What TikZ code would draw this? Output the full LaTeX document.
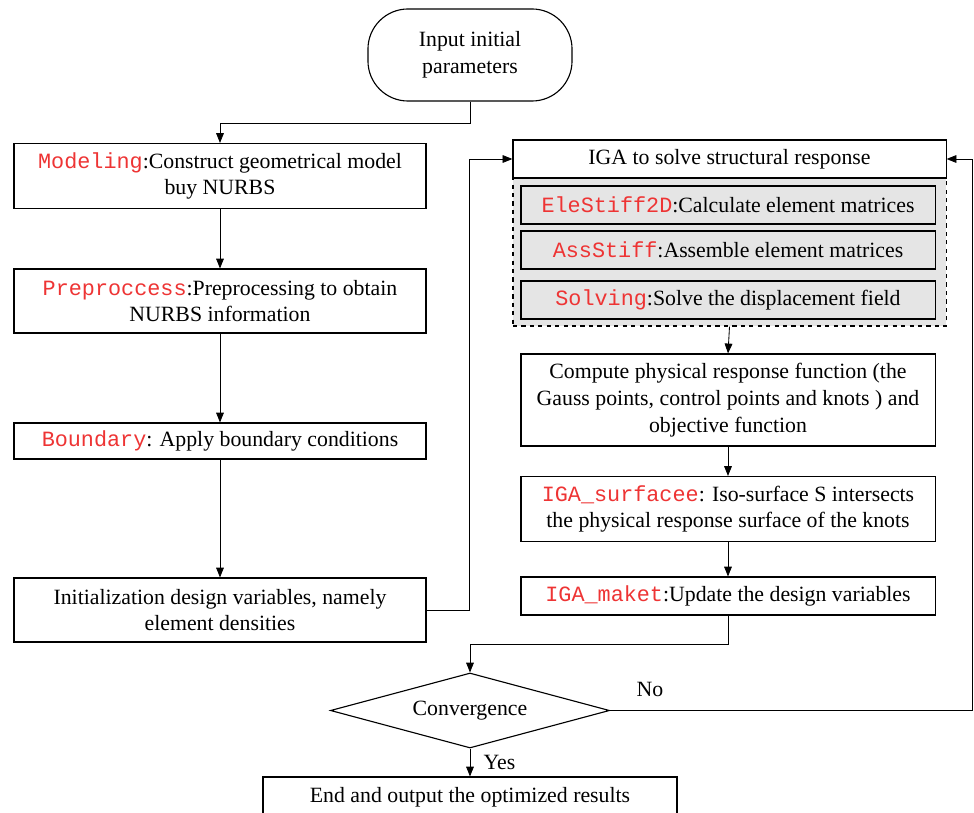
\documentclass[tikz,border=0pt]{standalone}
\usepackage{fontspec}
\setmainfont{Liberation Serif}
\setmonofont{Liberation Mono}
\usetikzlibrary{arrows.meta,shapes.geometric}
\definecolor{fnred}{RGB}{238,52,52}
\newcommand{\fn}[1]{\textcolor{fnred}{\texttt{#1}}}

\begin{document}
\begin{tikzpicture}[x=0.025cm, y=-0.025cm, font=\fontsize{15.5}{19}\selectfont,
        >={Triangle[length=7pt,width=5.5pt]}]
      \tikzstyle{box} = [draw, line width=0.8pt, fill=white, align=center, inner sep=0pt, minimum width=10.3cm]
      \tikzstyle{sub} = [box, fill=black!10, minimum width=10.35cm, minimum height=0.95cm]
      \tikzstyle{line} = [draw, line width=0.6pt, ->]
      \useasboundingbox (0,0) rectangle (974,813);
      \clip (0,0) rectangle (974,813);
      % left column
      \node (start) [draw, line width=0.8pt, rounded corners=1cm, align=center,
        minimum width=5.1cm, minimum height=2.3cm] at (470,55) {Input initial\\parameters};
      \node (model) [box, minimum height=1.625cm] at (220,176) {\fn{Modeling}:Construct geometrical model\\buy NURBS};
      \node (pre) [box, minimum height=1.6cm] at (220,301) {\fn{Preproccess}:Preprocessing to obtain\\NURBS information};
      \node (bound) [box, minimum height=0.9cm] at (220,441) {\fn{Boundary}: Apply boundary conditions};
      \node (init) [box, minimum height=1.6cm] at (220,610) {Initialization design variables, namely\\element densities};
      % right column
      \node (solver) [draw, dashed, line width=0.8pt, fill=black!10, minimum width=10.825cm, minimum height=3.7cm] at (729.5,252) {};
      \node (head) [box, minimum width=10.825cm, minimum height=0.95cm] at (729.5,159) {IGA to solve structural response};
      \node (stiff) [sub] at (728,205) {\fn{EleStiff2D}:Calculate element matrices};
      \node (ass) [sub] at (728,250) {\fn{AssStiff}:Assemble element matrices};
      \node (solve) [sub] at (728,300) {\fn{Solving}:Solve the displacement field};
      \node (resp) [box, minimum width=10.35cm, minimum height=2.3cm] at (728,400) {Compute physical response function (the\\Gauss points, control points and knots ) and\\objective function};
      \node (surf) [box, minimum width=10.35cm, minimum height=1.625cm] at (728,509) {\fn{IGA\_surfacee}: Iso-surface S intersects\\the physical response surface of the knots};
      \node (maket) [box, minimum width=10.35cm, minimum height=0.95cm] at (728,596) {\fn{IGA\_maket}:Update the design variables};
      % bottom
      \node (conv) [draw, diamond, line width=0.8pt, inner sep=0pt, aspect=3.72,
        minimum width=6.975cm, minimum height=1.875cm] at (470,710.5) {Convergence};
      \node (end) [box, minimum width=10.35cm, minimum height=1cm] at (470,797) {End and output the optimized results};
      \coordinate (back) at (972,710.5);

      \draw[line] (start.south) -- ++(0,22) -| (model.north);
      \draw[line] (model) -- (pre);
      \draw[line] (pre) -- (bound);
      \draw[line] (bound) -- (init);
      \draw[line] (init.east) -- ++(43,0) |- (head.west);
      \draw[line] (solver.south) -- (resp.north);
      \draw[line] (resp) -- (surf);
      \draw[line] (surf) -- (maket);
      \draw[line] (maket.south) -- ++(0,29) -| (conv.north);
      \draw[line] (conv.south) -- node[right, xshift=6pt] {Yes} (end.north);
      \draw[line] (conv.east) -- node[above, pos=0.11, yshift=6pt] {No} (back) |- (head.east);
    \end{tikzpicture}
\end{document}
